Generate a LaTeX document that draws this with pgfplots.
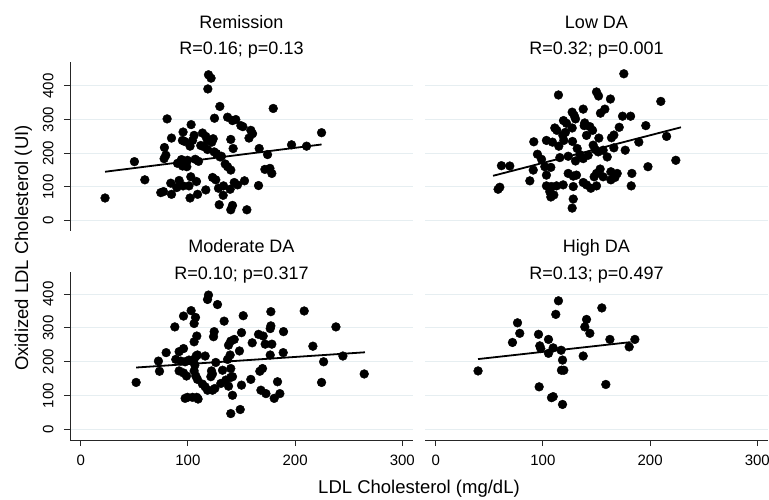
\documentclass[border=0pt]{standalone}
\usepackage{fontspec}
\setmainfont{Liberation Sans}
\usepackage{pgfplots}
\pgfplotsset{compat=1.18}
\definecolor{gridc}{RGB}{230,238,241}
\pgfplotsset{
  panel/.style={
    scale only axis, width=343pt,
    xmin=-10, xmax=310, ymin=-31,
    xtick={0,100,200,300}, ytick={0,100,200,300,400},
    ymajorgrids, grid style={color=gridc, line width=1pt},
    tick align=outside, major tick length=6pt,
    axis x line*=bottom, axis y line*=left,
    x axis line style={-, line width=0.9pt, black!85},
    y axis line style={-, line width=0.9pt, black!85},
    tick style={line width=0.9pt, black!85},
    /pgf/number format/assume math mode=true,
    tick label style={font=\fontsize{15}{18}\selectfont},
    yticklabel style={rotate=90, anchor=south},
    yticklabel shift=7pt, xticklabel shift=5pt,
    clip=false,
  },
  toppanel/.style={panel, height=169pt, ymax=471},
  botpanel/.style={panel, height=168.3pt, ymax=466},
  noy/.style={y axis line style={draw=none}, ytick style={draw=none}, yticklabels={}},
  nox/.style={x axis line style={draw=none}, xtick=\empty},
  pts/.style={only marks, mark=*, mark size=4.4pt, mark options={fill=black, draw=black}},
  fit/.style={no marks, black, line width=1.8pt},
}
\newcommand{\tfont}{\fontsize{18}{21}\selectfont}
\begin{document}
\begin{tikzpicture}[x=1pt,y=1pt]
\useasboundingbox (0pt,0pt) rectangle (769pt,499pt);
% ---------------- Remission
\begin{axis}[toppanel, nox, at={(70pt,268pt)}, anchor=south west]
\addplot[pts] coordinates {
(119.2,433)(121.6,423)(118.6,391)(129.8,339)(179.6,333)(80.6,302)(124.8,304)(137,307)
(141.6,297)(144.7,300)(149.4,282)(151.3,279)(103,285)(158.7,268)(160.3,258)(157,245)
(224.7,261)(84.7,245)(95.5,263)(94.9,238)(105.8,253)(104.3,238)(102,221)(113.6,260)
(116.7,250)(118.3,238)(123.6,243)(122.3,233)(115.2,219)(118.3,211)(140,241)(142.2,214)
(166.5,214)(174.3,196)(196.7,225)(210.7,221)(78.1,217)(79.4,194)(77.8,184)(50.1,175)
(90.3,170)(94,181)(95,162)(99,160)(99.6,179)(106.8,182)(109.9,176)(124.5,204)
(126.7,199)(130,189)(131.3,191)(134.8,168)(137,160)(140,150)(171.8,152)(176.5,155)
(178.3,140)(59.8,121)(84,111)(89.6,98)(91.8,119)(95.5,103)(101,103)(102.7,130)
(108,116)(123,128)(126,121)(128.5,96)(133.2,103)(139.4,93)(143.2,113)(146.3,106)
(152.8,118)(165.9,104)(74.7,83)(77.2,86)(84.7,78)(102,67)(109,78)(116.7,91)
(132.9,75)(129.2,47)(140,32)(141.6,45)(155,32)(22.7,67)(97,235)(112,223)
};
\addplot[fit] coordinates {(22.7,145)(224.7,226)};
\node[anchor=base, font=\tfont] at (rel axis cs:0.5,1) [yshift=33.7pt] {Remission};
\node[anchor=base, font=\tfont] at (rel axis cs:0.5,1) [yshift=7pt] {R=0.16; p=0.13};
\end{axis}
% ---------------- Low DA
\begin{axis}[toppanel, nox, noy, at={(425pt,268pt)}, anchor=south west]
\addplot[pts] coordinates {
(175.5,436)(114.5,373)(150,382)(151.9,370)(163,361)(210,354)(137.6,331)(127.3,322)
(129.2,312)(157.8,331)(153.7,319)(119.2,297)(122,289)(130.4,302)(174.3,310)(181.8,310)
(111.1,275)(127.3,275)(138.5,282)(143.8,279)(146.3,268)(171.2,277)(196,282)(118.6,253)
(119.5,238)(103.3,238)(108.9,233)(114.8,221)(91.5,234)(127.6,235)(140.7,253)(152.2,245)
(164,246)(166.2,254)(189.5,233)(215.4,250)(146.9,224)(148.8,211)(151.6,204)(156.2,209)
(166.2,216)(176.8,209)(132,214)(134.5,196)(137.6,184)(142.2,194)(160,189)(94.9,197)
(98.7,182)(101.8,160)(115.8,187)(123.6,191)(130.4,177)(61.3,163)(69.1,162)(91,150)
(107.4,158)(103.3,135)(123.6,140)(128.3,132)(131.3,135)(153.4,153)(156.2,130)(147.8,130)
(150,140)(163.4,145)(169.3,140)(167.2,128)(163.4,121)(183,140)(198,160)(224,179)
(87.8,118)(103.3,103)(108,101)(112.7,103)(118.9,106)(128.3,101)(137.6,113)(140.7,106)
(144.7,96)(150,103)(182.4,103)(58.2,93)(59.8,99)(106.4,86)(110.2,76)(107.4,70)
(128.3,64)(127.3,37)(139,290)(121,262)(113,268)
};
\addplot[fit] coordinates {(53.5,133)(228.8,277)};
\node[anchor=base, font=\tfont] at (rel axis cs:0.5,1) [yshift=33.7pt] {Low DA};
\node[anchor=base, font=\tfont] at (rel axis cs:0.5,1) [yshift=7pt] {R=0.32; p=0.001};
\end{axis}
% ---------------- Moderate DA
\begin{axis}[botpanel, at={(70pt,59pt)}, anchor=south west]
\addplot[pts] coordinates {
(119.2,397)(118.3,384)(127.6,369)(103,351)(95.9,335)(107.1,331)(105.8,313)(133.8,320)
(151.6,336)(177.4,348)(208.5,350)(87.8,303)(177.4,306)(176.8,298)(238.1,303)(124.5,289)
(123.9,274)(108.3,276)(105.8,259)(150,286)(143.2,266)(140,261)(137.9,249)(165.9,281)
(170.2,276)(189.2,289)(160,256)(172.1,252)(178.3,252)(216.6,246)(95.9,239)(91.8,230)
(79.7,227)(107.7,217)(108.9,220)(116.1,217)(148.1,232)(139.4,220)(137,207)(176.8,220)
(188.9,227)(244.6,217)(72.5,202)(88.7,207)(93.4,202)(97.4,200)(105.8,207)(106.5,190)
(226.6,200)(73.5,172)(91.8,173)(95.9,167)(98.7,158)(105.8,173)(107.4,158)(108.9,148)
(122,173)(122.9,164)(121.4,156)(132.3,175)(140,180)(167.1,172)(169.6,180)(264.5,164)
(51.7,139)(113.6,134)(116.1,126)(118.3,116)(122.9,116)(125.1,121)(130.7,136)(135.4,146)
(140,154)(141.6,156)(137.9,128)(150,131)(158.7,148)(183.6,141)(224.7,139)(97.4,92)
(99.6,95)(104.3,95)(108.3,95)(109.5,90)(141.6,101)(168.1,116)(172.8,106)(180.5,92)
(185.8,106)(148.8,59)(140,47)(101,205)(126,198)
};
\addplot[fit] coordinates {(51.7,183)(265.2,228)};
\node[anchor=base, font=\tfont] at (rel axis cs:0.5,1) [yshift=19.1pt] {Moderate DA};
\node[anchor=base, font=\tfont] at (rel axis cs:0.5,1) [yshift=-7.6pt] {R=0.10; p=0.317};
\end{axis}
% ---------------- High DA
\begin{axis}[botpanel, noy, at={(425pt,59pt)}, anchor=south west]
\addplot[pts] coordinates {
(114.5,380)(155,359)(112,340)(140.7,325)(76.3,315)(139.1,303)(143.8,284)(78.4,284)
(95.9,281)(71.6,257)(105.2,266)(97.1,247)(98,239)(109.6,241)(105.2,225)(117,234)
(162.5,266)(185.8,266)(180.5,244)(137.6,217)(118.3,205)(39.5,173)(117.3,175)(119.5,175)
(96.5,126)(158.7,133)(108,94)(109.6,97)(118.3,74)
};
\addplot[fit] coordinates {(39.5,208)(181.8,258)};
\node[anchor=base, font=\tfont] at (rel axis cs:0.5,1) [yshift=19.1pt] {High DA};
\node[anchor=base, font=\tfont] at (rel axis cs:0.5,1) [yshift=-7.6pt] {R=0.13; p=0.497};
\end{axis}
\node[anchor=base, font=\fontsize{18.5}{21}\selectfont] at (419pt,6pt) {LDL Cholesterol (mg/dL)};
\node[anchor=base, rotate=90, font=\fontsize{18.5}{21}\selectfont] at (28pt,251pt) {Oxidized LDL Cholesterol (UI)};
\end{tikzpicture}
\end{document}
